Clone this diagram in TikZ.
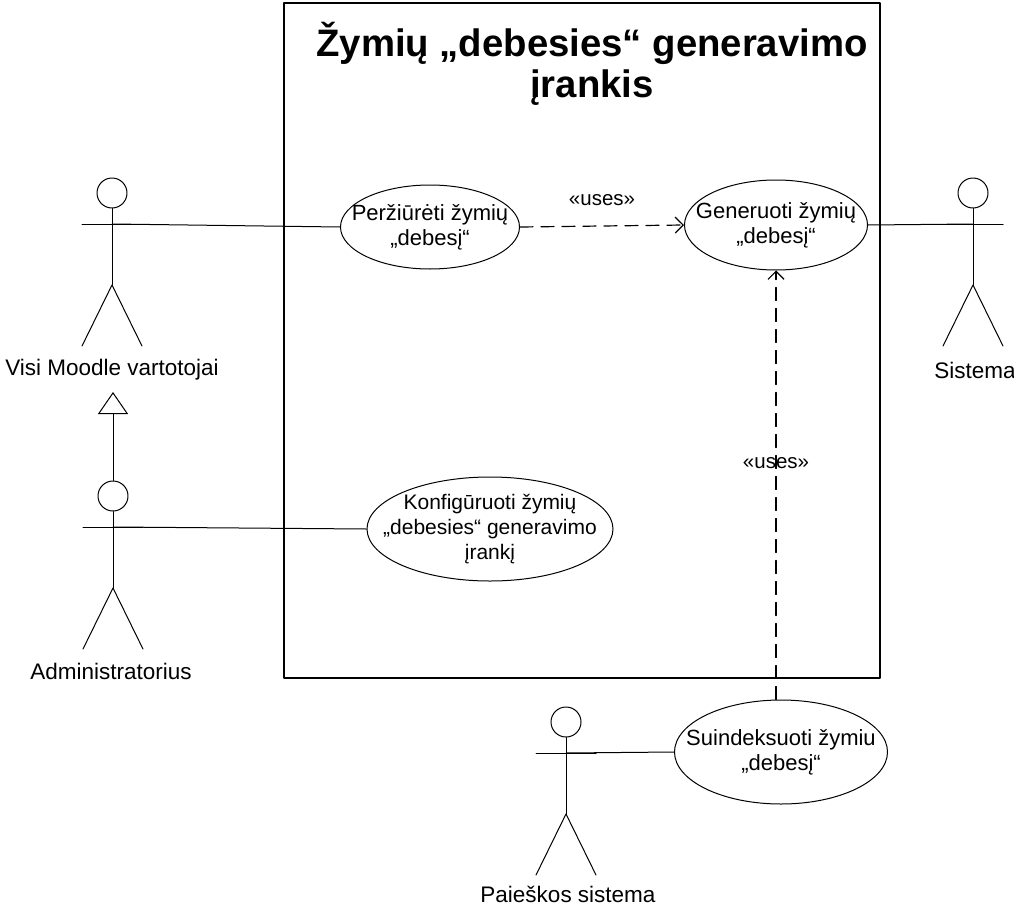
\documentclass[tikz,border=0pt]{standalone}
\usepackage{fontspec}
\setmainfont{Liberation Sans}
\usetikzlibrary{shapes.geometric, arrows.meta, positioning}

\begin{document}
\begin{tikzpicture}[x=1pt, y=-1pt, line cap=round, line join=round]

% --- Stijlen ---
\tikzset{
    boundary/.style={
        draw,
        line width=1.6pt,
        minimum width=596pt,
        minimum height=675pt,
        inner sep=0pt
    },
    boxtitle/.style={
        font=\fontsize{38.3}{41}\selectfont\bfseries,
        align=center
    },
    usecase/.style={
        ellipse,
        draw,
        line width=1pt,
        inner xsep=-30pt,
        inner ysep=-8pt,
        align=center,
        font=\fontsize{22}{25}\selectfont
    },
    head/.style={
        circle,
        draw,
        line width=1pt,
        minimum size=30pt,
        inner sep=0pt
    },
    stick/.style={
        draw,
        line width=1pt
    },
    actorlabel/.style={
        font=\fontsize{22.5}{26}\selectfont
    },
    assoc/.style={
        draw,
        line width=1pt
    },
    usesarrow/.style={
        draw,
        line width=1.2pt,
        dash pattern=on 13pt off 8pt,
        -{Straight Barb[length=8pt, width=16pt]}
    },
    generalize/.style={
        draw,
        line width=1pt,
        -{Triangle[open, length=22pt, width=30pt]}
    },
    stereo/.style={
        font=\fontsize{20.5}{24}\selectfont
    }
}

\useasboundingbox (0,0) rectangle (1014,907);

% --- Sistemos riba ---
\node[boundary] (system) at (582,340.5) {};
\node[boxtitle] (title) at (592,64) {Žymių „debesies“ generavimo\\įrankis};

% --- Aktoriai (galva, rankos, kojos) ---
\foreach \name/\hx/\hy in {moodle/112/193, admin/113/496, sistema/973/193, paieska/566/722} {
    \node[head] (\name-head) at (\hx,\hy) {};
    \coordinate (\name-arm) at (\hx,{\hy+31});
    \coordinate (\name-hip) at (\hx,{\hy+92});
    \draw[stick] (\name-head.south) -- (\name-hip);
    \draw[stick] ({\hx-30},{\hy+31}) -- ({\hx+30},{\hy+31});
    \draw[stick] ({\hx-30},{\hy+153}) -- (\name-hip) -- ({\hx+30},{\hy+153});
}

\node[actorlabel] (moodle-label) at (112,370) {Visi Moodle vartotojai};
\node[actorlabel] (admin-label) at (111,671) {Administratorius};
\node[actorlabel] (sistema-label) at (975,370) {Sistema};
\node[actorlabel] (paieska-label) at (568,894) {Paieškos sistema};

% --- Panaudojimo atvejai ---
\node[usecase, minimum width=179pt, minimum height=84pt] (view) at (430,227)
    {Peržiūrėti žymių\\„debesį“};
\node[usecase, minimum width=183pt, minimum height=90pt] (generate) at (776,225)
    {Generuoti žymių\\„debesį“};
\node[usecase, minimum width=246pt, minimum height=104pt, font=\fontsize{21}{25}\selectfont] (configure) at (490,529)
    {Konfigūruoti žymių\\„debesies“ generavimo\\įrankį};
\node[usecase, minimum width=213pt, minimum height=104pt] (index) at (781,752)
    {Suindeksuoti žymiu\\„debesį“};

% --- Asociacijos ---
\draw[assoc] (moodle-arm) -- (view.west);
\draw[assoc] (admin-arm) -- (configure.west);
\draw[assoc] (generate.east) -- (sistema-arm);
\draw[assoc] (paieska-arm) -- (index.west);

% --- Apibendrinimas ---
\coordinate (gen-tip) at (113,392);
\draw[generalize] (admin-head.north) -- (gen-tip);

% --- «uses» rysiai ---
\draw[usesarrow] (view.east) -- node[stereo, midway, above=16pt] (uses-a) {«uses»} (generate.west);
\draw[usesarrow] (index.north -| generate.south) -- node[stereo, pos=0.55] (uses-b) {«uses»} (generate.south);

\end{tikzpicture}
\end{document}
